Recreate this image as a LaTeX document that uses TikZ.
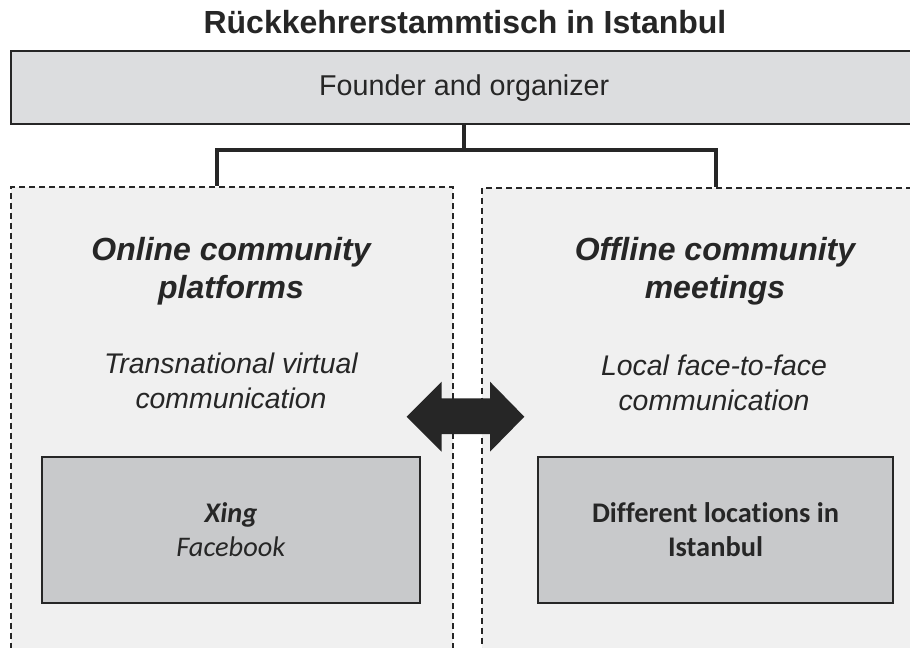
\documentclass[tikz,border=0pt]{standalone}
\usepackage{fontspec}
\setmainfont{Liberation Sans}
\newfontfamily\calib[Ligatures=NoCommon]{Carlito}
\definecolor{topfill}{HTML}{DCDDDF}
\definecolor{innerfill}{HTML}{C8C9CB}
\definecolor{dashfill}{HTML}{F0F0F0}
\definecolor{ink}{HTML}{262626}
\begin{document}
\begin{tikzpicture}[x=0.75pt,y=-0.75pt,
  topbox/.style={draw=ink, fill=topfill, line width=2.4pt*0.75, anchor=north west, inner sep=0pt,
     font=\fontsize{21.5}{26}\selectfont, text=ink},
  dashbox/.style={draw=ink, fill=dashfill, line width=1.6pt*0.75, dash pattern=on 6pt*0.75 off 4pt*0.75,
     anchor=north west, inner sep=0pt},
  innerbox/.style={draw=ink, fill=innerfill, line width=2pt*0.75, anchor=north west, inner sep=0pt,
     align=center, text=ink},
  conn/.style={draw=ink, line width=4pt*0.75, line join=miter},
  headtxt/.style={align=center, text=ink, font=\fontsize{24}{28.5}\selectfont\bfseries\itshape},
  subtxt/.style={align=center, text=ink, font=\fontsize{21.3}{26}\selectfont\itshape},
  boxtxt/.style={align=center, text=ink, font=\calib\fontsize{21.3}{25.5}\selectfont}
]
\useasboundingbox (0,0) rectangle (910,647);
\clip (0,0) rectangle (910,647);
\fill[white] (0,0) rectangle (910,647);

% title
\node[text=ink, font=\fontsize{24}{28}\selectfont\bfseries] (title) at (465,22) {Rückkehrerstammtisch in Istanbul};

% top box
\node[topbox, minimum width=906*0.75pt, minimum height=73*0.75pt] (founder) at (10,50) {Founder and organizer};

% dashed boxes
\node[dashbox, minimum width=442*0.75pt, minimum height=490*0.75pt] (left) at (10,186) {};
\node[dashbox, minimum width=450*0.75pt, minimum height=490*0.75pt] (right) at (481,187) {};

% connectors
\coordinate (lj) at (217,186);
\coordinate (rj) at (716,187);
\draw[conn] (founder.south) -- ++(0,25) coordinate (mid);
\draw[conn] (lj) |- (mid) -| (rj);

% headings
\node[headtxt] (lhead) at (231,271) {Online community\\platforms};
\node[headtxt] (rhead) at (715,271) {Offline community\\meetings};
\node[subtxt] (lsub) at (231,381) {Transnational virtual\\communication};
\node[subtxt] (rsub) at (714,383) {Local face-to-face\\communication};

% inner boxes
\node[innerbox, minimum width=378*0.75pt, minimum height=146*0.75pt] (lbox) at (41,456) {};
\node[innerbox, minimum width=355*0.75pt, minimum height=146*0.75pt] (rbox) at (537,456) {};
\node[boxtxt] (ltxt) at (lbox.center) {\textbf{\textit{Xing}}\\\textit{Facebook}};
\node[boxtxt] (rtxt) at (rbox.center) {\textbf{Different locations in}\\\textbf{Istanbul}};

% double arrow
\fill[ink] (406.7,416.7) -- (441.7,381.7) -- (441.7,398.3) -- (490,398.3) -- (490,381.7)
  -- (524.3,416.7) -- (490,451.7) -- (490,434) -- (441.7,434) -- (441.7,451.7) -- cycle;
\end{tikzpicture}
\end{document}
